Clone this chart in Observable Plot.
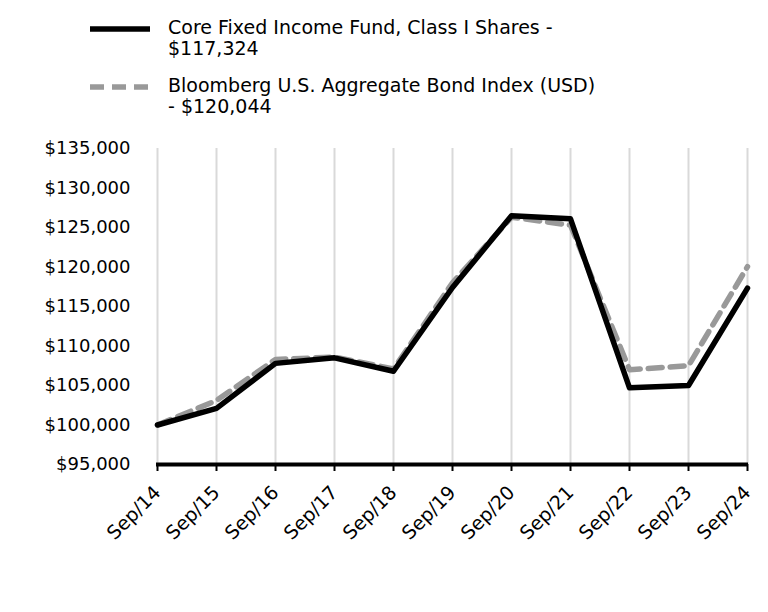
<!DOCTYPE html>
<html>
<head>
<meta charset="utf-8">
<script src="https://cdn.jsdelivr.net/npm/d3@7"></script>
<script src="https://cdn.jsdelivr.net/npm/@observablehq/plot@0.6"></script>
<style>
  html, body { margin: 0; padding: 0; background: #fff; }
  body { width: 768px; height: 612px; overflow: hidden; font-family: "DejaVu Sans", sans-serif; }
  #legend { position: relative; height: 135px; }
  .item { position: absolute; left: 90px; display: flex; align-items: flex-start; }
  .item svg { margin-top: 8px; }
  .item .lbl { margin-left: 18px; font-size: 19px; line-height: 21px; color: #000; white-space: nowrap; }
</style>
</head>
<body>
<div id="legend"></div>
<div id="chart"></div>
<script>
const periods = ["Sep/14","Sep/15","Sep/16","Sep/17","Sep/18","Sep/19","Sep/20","Sep/21","Sep/22","Sep/23","Sep/24"];
const fundValues = [100000, 102100, 107800, 108500, 106800, 117400, 126500, 126100, 104700, 105000, 117324];
const indexValues = [100000, 103100, 108300, 108600, 107100, 118000, 126300, 125300, 107000, 107500, 120044];
const legendLines = [["Core Fixed Income Fund, Class I Shares -", "$117,324"], ["Bloomberg U.S. Aggregate Bond Index (USD)", "- $120,044"]];
const yTicks = [95000, 100000, 105000, 110000, 115000, 120000, 125000, 130000, 135000];

const fund = periods.map((p, i) => ({period: p, value: fundValues[i]}));
const index = periods.map((p, i) => ({period: p, value: indexValues[i]}));

// Legend
const legend = document.getElementById("legend");
const tops = [17, 75];
legendLines.forEach((lines, i) => {
  const d = document.createElement("div");
  d.className = "item";
  d.style.top = tops[i] + "px";
  const sw = i === 0
    ? `<svg width="60" height="8"><line x1="0" y1="4" x2="60" y2="4" stroke="#000" stroke-width="5.5"/></svg>`
    : `<svg width="60" height="8"><line x1="0" y1="4" x2="60" y2="4" stroke="#999" stroke-width="5.5" stroke-dasharray="14,8"/></svg>`;
  d.innerHTML = sw + `<div class="lbl">${lines[0]}<br>${lines[1]}</div>`;
  legend.appendChild(d);
});

const fmt = d => "$" + d3.format(",")(d);

const chart = Plot.plot({
  width: 768,
  height: 477,
  marginTop: 13,
  marginBottom: 148,
  marginLeft: 156,
  marginRight: 20,
  style: {fontFamily: "DejaVu Sans, sans-serif", fontSize: "18px", color: "#000", background: "#fff"},
  x: {type: "point", domain: periods, padding: 0, label: null},
  y: {domain: [95000, 135000], label: null},
  marks: [
    Plot.gridX(periods, {stroke: "#d9d9d9", strokeOpacity: 1, strokeWidth: 2}),
    Plot.axisY(yTicks, {tickSize: 0, tickPadding: 26, tickFormat: fmt, fontSize: 18, label: null}),
    Plot.axisX(periods, {tickSize: 7, tickPadding: 18, tickRotate: -45, fontSize: 19, stroke: "#000", strokeWidth: 2, label: null}),
    Plot.ruleY([95000], {stroke: "#000", strokeWidth: 4}),
    Plot.line(index, {x: "period", y: "value", stroke: "#999", strokeWidth: 5.5, strokeDasharray: "14,8"}),
    Plot.line(fund, {x: "period", y: "value", stroke: "#000", strokeWidth: 5.5})
  ]
});
document.getElementById("chart").appendChild(chart);
</script>
</body>
</html>
